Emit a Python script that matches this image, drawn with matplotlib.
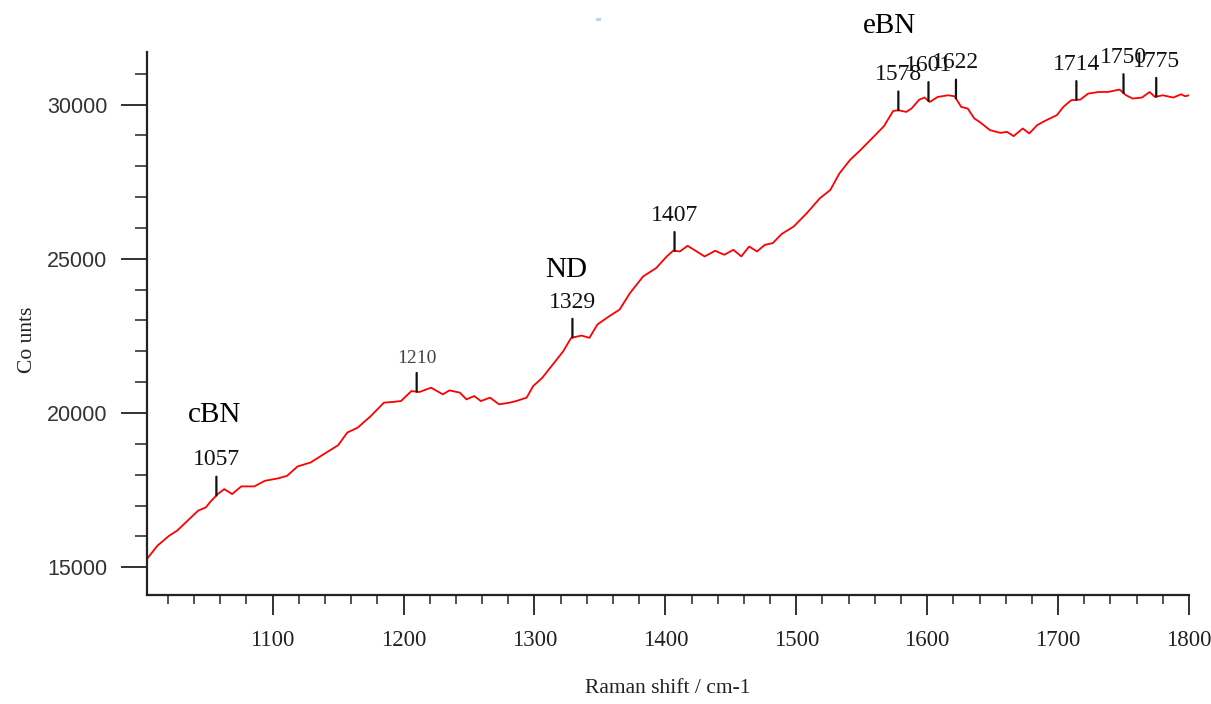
import numpy as np
import matplotlib
matplotlib.use("Agg")
import matplotlib.pyplot as plt
from matplotlib.ticker import MultipleLocator, FixedLocator
from matplotlib.patches import Rectangle

# Raman spectrum (shift in cm-1, counts)
shift = [1004, 1012, 1021, 1027, 1035, 1043, 1049, 1052, 1058, 1063,
         1069, 1076, 1086, 1094, 1104, 1111, 1119, 1129, 1139, 1150,
         1157, 1165, 1175, 1185, 1192, 1198, 1206, 1212, 1221, 1230,
         1235, 1243, 1248, 1254, 1259, 1266, 1273, 1281, 1286, 1294,
         1299, 1306, 1314, 1322, 1328, 1336, 1342, 1348, 1357, 1365,
         1373, 1383, 1393, 1401, 1406, 1411, 1417, 1430, 1438, 1445,
         1452, 1458, 1464, 1470, 1476, 1482, 1489, 1498, 1508, 1518,
         1526, 1533, 1541, 1549, 1559, 1567, 1574, 1578, 1584, 1588,
         1594, 1598, 1602, 1608, 1616, 1621, 1626, 1631, 1636, 1640,
         1648, 1656, 1661, 1666, 1673, 1678, 1684, 1691, 1699, 1704,
         1710, 1717, 1723, 1731, 1738, 1747, 1752, 1757, 1764, 1770,
         1774, 1780, 1788, 1794, 1797, 1800]
counts = [15272, 15702, 16025, 16186, 16510, 16833, 16942, 17104, 17372, 17534,
          17372, 17621, 17621, 17803, 17880, 17964, 18268, 18397, 18665, 18956,
          19367, 19528, 19903, 20337, 20360, 20388, 20712, 20680, 20821, 20605,
          20734, 20660, 20443, 20550, 20388, 20498, 20281, 20336, 20388, 20498,
          20873, 21144, 21574, 22004, 22437, 22511, 22437, 22867, 23135, 23352,
          23891, 24428, 24700, 25074, 25264, 25236, 25420, 25075, 25259, 25130,
          25291, 25075, 25398, 25236, 25452, 25507, 25808, 26044, 26477, 26962,
          27230, 27770, 28200, 28523, 28953, 29300, 29790, 29816, 29761, 29870,
          30160, 30226, 30084, 30246, 30300, 30268, 29922, 29870, 29548, 29438,
          29169, 29082, 29114, 28975, 29224, 29063, 29331, 29493, 29654, 29922,
          30139, 30161, 30355, 30407, 30407, 30485, 30300, 30194, 30226, 30407,
          30246, 30300, 30226, 30333, 30268, 30300]

# Labelled peak positions
peaks = [1057, 1210, 1329, 1407, 1578, 1601, 1622, 1714, 1750, 1775]
# Phase names and where they are written
phase_names = ["cBN", "ND", "eBN"]
phase_pos = [(1055.5, 19930), (1324.5, 24650), (1571, 32560)]

x_ticks = [1100, 1200, 1300, 1400, 1500, 1600, 1700, 1800]
y_ticks = [15000, 20000, 25000, 30000]

serif = "Liberation Serif"

fig = plt.figure(figsize=(12.11, 7.04), dpi=100)
ax = fig.add_axes([0.1214, 0.1548, 0.8604, 0.7712])

ax.plot(shift, counts, color="#ff0000", lw=1.3)

ax.set_xlim(1004, 1800)
ax.set_ylim(14100, 31700)

for s in ("top", "right"):
    ax.spines[s].set_visible(False)
for s in ("left", "bottom"):
    ax.spines[s].set_linewidth(1.6)
    ax.spines[s].set_color("#222222")

ax.xaxis.set_major_locator(FixedLocator(x_ticks))
ax.xaxis.set_minor_locator(MultipleLocator(20))
ax.yaxis.set_major_locator(FixedLocator(y_ticks))
ax.yaxis.set_minor_locator(MultipleLocator(1000))

ax.tick_params(axis="x", which="major", direction="out", length=14.5, width=1.3,
               color="#222222", pad=11, labelsize=16.5, labelcolor="#222222")
ax.tick_params(axis="x", which="minor", direction="out", length=6.5, width=1.1,
               color="#222222")
ax.tick_params(axis="y", which="major", direction="out", length=18.5, width=1.3,
               color="#222222", pad=10, labelsize=15.5, labelcolor="#333333")
ax.tick_params(axis="y", which="minor", direction="out", length=9, width=1.1,
               color="#222222")

for lab in ax.get_xticklabels():
    lab.set_fontfamily(serif)
for lab in ax.get_yticklabels():
    lab.set_fontfamily("Liberation Sans")

ax.set_xlabel("Raman shift / cm-1", fontfamily=serif, fontsize=15.5,
              color="#222222")
ax.set_ylabel("Co unts", fontfamily=serif, fontsize=15.5, color="#222222")
ax.yaxis.set_label_coords(-0.106, 0.47)
ax.xaxis.set_label_coords(0.5, -0.155)

# Peak markers: short vertical tick from the curve with the value above it
for p in peaks:
    yv = float(np.interp(p, shift, counts))
    ax.annotate("", xy=(p, yv), xytext=(0, 13.5), textcoords="offset points",
                arrowprops=dict(arrowstyle="-", lw=1.6, color="#111111",
                                shrinkA=0, shrinkB=0), annotation_clip=False)
    small = (p == 1210)
    ax.annotate(str(p), xy=(p, yv), xytext=(0, 18), textcoords="offset points",
                ha="center", va="bottom", fontfamily=serif,
                fontsize=14 if small else 17,
                color="#444444" if small else "#111111",
                annotation_clip=False)

for name, (px, py) in zip(phase_names, phase_pos):
    ax.text(px, py, name, ha="center", va="center", fontfamily=serif,
            fontsize=21, color="#000000", clip_on=False)

# faint scan speck near the top edge
fig.patches.append(Rectangle((0.4925, 0.970), 0.0035, 0.005,
                             transform=fig.transFigure, facecolor="#b9d7ec",
                             edgecolor="none"))

fig.savefig("out.png", dpi=100, facecolor="white")
